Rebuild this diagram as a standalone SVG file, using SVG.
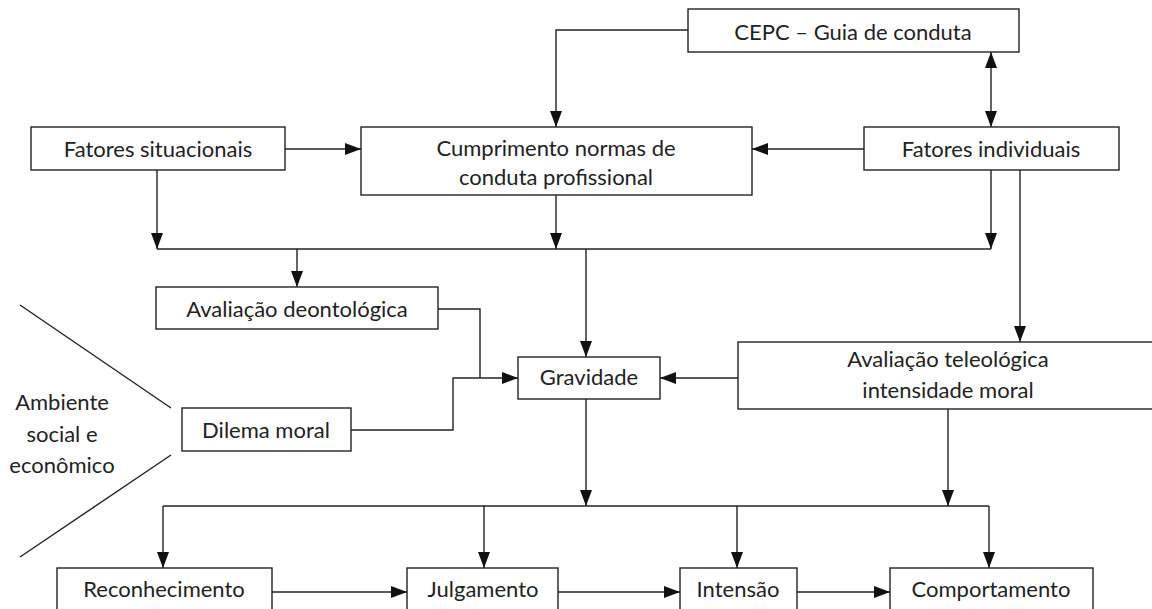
<svg xmlns="http://www.w3.org/2000/svg" width="1152" height="609" viewBox="0 0 1152 609">
<style>
.box{fill:#fff;stroke:#222;stroke-width:1.4}
.t{font-family:Lato,"Liberation Sans",sans-serif;font-size:22px;fill:#222;text-anchor:middle}
.c{fill:none;stroke:#222;stroke-width:1.4}
</style>
<defs>
<marker id="a" markerUnits="userSpaceOnUse" markerWidth="16" markerHeight="12" refX="16" refY="6" orient="auto-start-reverse"><path d="M0,0 L16,6 L0,12 z" fill="#111"/></marker>
</defs>
<g id="connectors">
<path class="c" d="M688,30 H556 V127" marker-end="url(#a)"/>
<path class="c" d="M991,52 V127" marker-start="url(#a)" marker-end="url(#a)"/>
<path class="c" d="M285,149 H361" marker-end="url(#a)"/>
<path class="c" d="M864,149 H752" marker-end="url(#a)"/>
<path class="c" d="M157,170 V249" marker-end="url(#a)"/>
<path class="c" d="M556,195 V249" marker-end="url(#a)"/>
<path class="c" d="M991,170 V249" marker-end="url(#a)"/>
<path class="c" d="M157,249 H991"/>
<path class="c" d="M297,249 V287" marker-end="url(#a)"/>
<path class="c" d="M586,249 V357" marker-end="url(#a)"/>
<path class="c" d="M1020,170 V342" marker-end="url(#a)"/>
<path class="c" d="M438,309 H480 V378"/>
<path class="c" d="M351,430 H453 V378 H518" marker-end="url(#a)"/>
<path class="c" d="M738,378 H660" marker-end="url(#a)"/>
<path class="c" d="M586,399 V506" marker-end="url(#a)"/>
<path class="c" d="M948,409 V506" marker-end="url(#a)"/>
<path class="c" d="M163,506 H989"/>
<path class="c" d="M163,506 V568" marker-end="url(#a)"/>
<path class="c" d="M484,506 V568" marker-end="url(#a)"/>
<path class="c" d="M737,506 V568" marker-end="url(#a)"/>
<path class="c" d="M989,506 V568" marker-end="url(#a)"/>
<path class="c" d="M272,592 H407" marker-end="url(#a)"/>
<path class="c" d="M558,592 H680" marker-end="url(#a)"/>
<path class="c" d="M797,592 H890" marker-end="url(#a)"/>
<path class="c" d="M20,305 L171,408"/>
<path class="c" d="M171,455 L20,557"/>
</g>
<g id="cepc"><rect class="box" x="688" y="9" width="331" height="43"/><text class="t" x="853" y="40">CEPC – Guia de conduta</text></g>
<g id="fatores-situacionais"><rect class="box" x="31" y="127" width="254" height="43"/><text class="t" x="158" y="157">Fatores situacionais</text></g>
<g id="cumprimento"><rect class="box" x="361" y="127" width="391" height="68"/><text class="t" x="556" y="156">Cumprimento normas de</text><text class="t" x="556" y="185">conduta profissional</text></g>
<g id="fatores-individuais"><rect class="box" x="864" y="127" width="255" height="43"/><text class="t" x="991" y="157">Fatores individuais</text></g>
<g id="deontologica"><rect class="box" x="156" y="287" width="282" height="42"/><text class="t" x="297" y="317">Avaliação deontológica</text></g>
<g id="dilema"><rect class="box" x="182" y="408" width="169" height="43"/><text class="t" x="266" y="438">Dilema moral</text></g>
<g id="gravidade"><rect class="box" x="518" y="357" width="142" height="42"/><text class="t" x="589" y="385">Gravidade</text></g>
<g id="teleologica"><rect class="box" x="738" y="342" width="422" height="67"/><text class="t" x="948" y="367">Avaliação teleológica</text><text class="t" x="948" y="398">intensidade moral</text></g>
<g id="ambiente"><text class="t" x="62" y="410">Ambiente</text><text class="t" x="62" y="442">social e</text><text class="t" x="62" y="473">econômico</text></g>
<g id="reconhecimento"><rect class="box" x="57" y="568" width="215" height="50"/><text class="t" x="164" y="597">Reconhecimento</text></g>
<g id="julgamento"><rect class="box" x="407" y="568" width="151" height="50"/><text class="t" x="483" y="597">Julgamento</text></g>
<g id="intensao"><rect class="box" x="680" y="568" width="117" height="50"/><text class="t" x="738" y="597">Intensão</text></g>
<g id="comportamento"><rect class="box" x="890" y="568" width="203" height="50"/><text class="t" x="991" y="597">Comportamento</text></g>
</svg>
